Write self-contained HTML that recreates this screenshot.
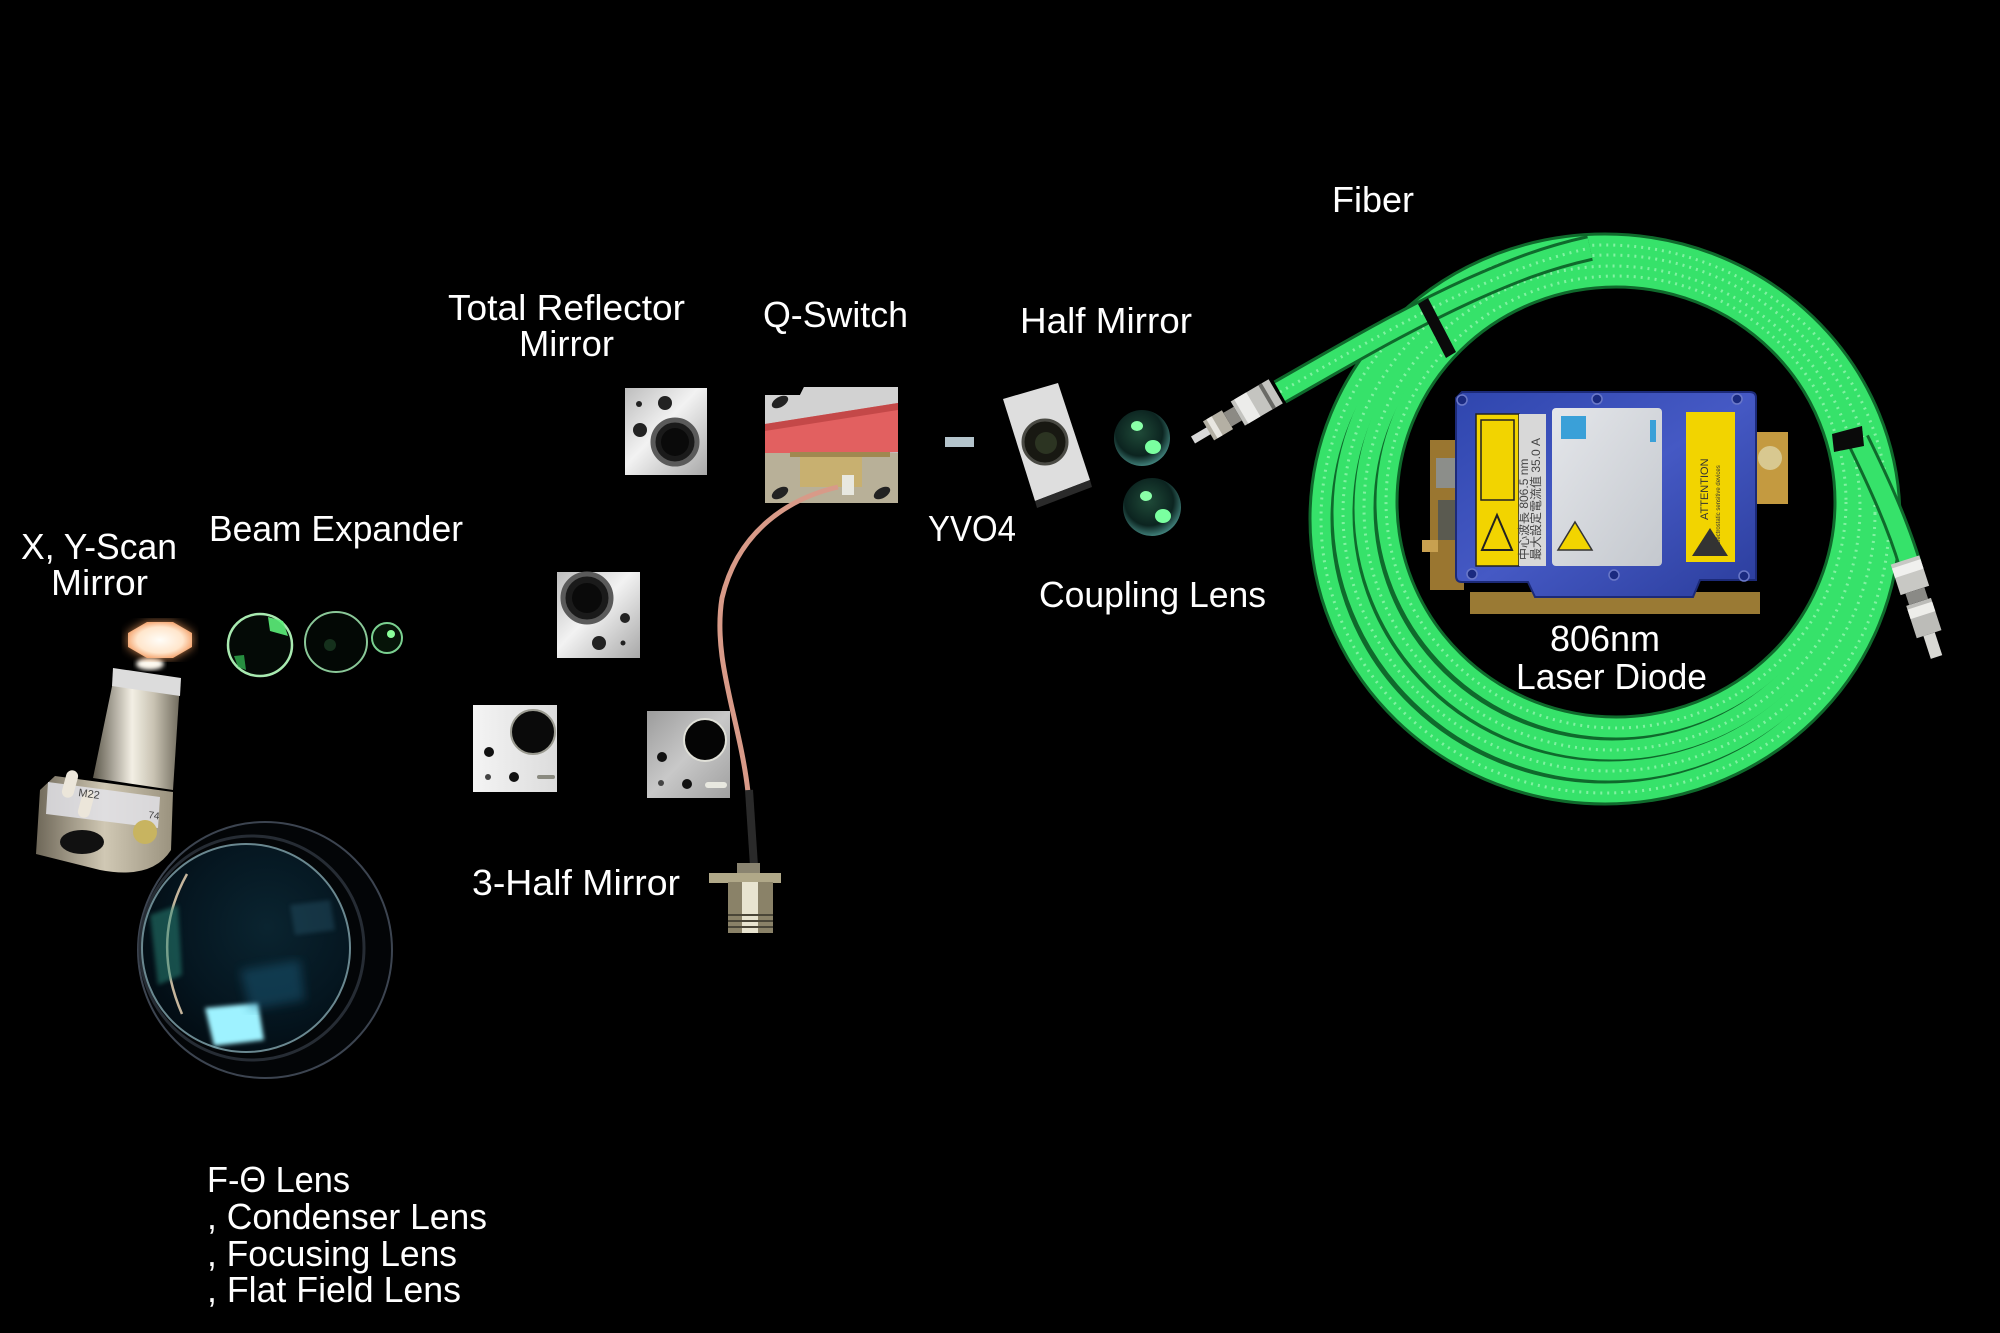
<!DOCTYPE html>
<html><head><meta charset="utf-8"><style>
html,body{margin:0;padding:0;background:#000;}
svg{display:block;}
</style></head><body>
<svg width="2000" height="1333" viewBox="0 0 2000 1333" xmlns="http://www.w3.org/2000/svg">
<defs>
<linearGradient id="metal" x1="0" y1="0" x2="1" y2="1">
<stop offset="0" stop-color="#bdbdbd"/><stop offset="0.45" stop-color="#f2f2f2"/><stop offset="1" stop-color="#a8a8a8"/></linearGradient>
<linearGradient id="metal2" x1="0" y1="0" x2="1" y2="0">
<stop offset="0" stop-color="#f4f4f4"/><stop offset="1" stop-color="#dcdcdc"/></linearGradient>
<linearGradient id="brushed" x1="0" y1="0" x2="1" y2="1">
<stop offset="0" stop-color="#9c9c9c"/><stop offset="0.5" stop-color="#c8c8c8"/><stop offset="1" stop-color="#a0a0a0"/></linearGradient>
<linearGradient id="cyl" x1="0" y1="0" x2="1" y2="0">
<stop offset="0" stop-color="#5e594c"/><stop offset="0.45" stop-color="#f3efe4"/><stop offset="0.7" stop-color="#c8c2b2"/><stop offset="1" stop-color="#6f6a5c"/></linearGradient>
<linearGradient id="base" x1="0" y1="0" x2="1" y2="0">
<stop offset="0" stop-color="#6e6758"/><stop offset="0.5" stop-color="#d0c8b4"/><stop offset="1" stop-color="#9a927e"/></linearGradient>
<radialGradient id="octa" cx="0.5" cy="0.5" r="0.6">
<stop offset="0" stop-color="#fffdf8"/><stop offset="0.6" stop-color="#ffe6cc"/><stop offset="1" stop-color="#f08a4a"/></radialGradient>
<radialGradient id="glass" cx="0.6" cy="0.4" r="0.7">
<stop offset="0" stop-color="#0a2430"/><stop offset="0.6" stop-color="#051620"/><stop offset="1" stop-color="#020a10"/></radialGradient>
<radialGradient id="ball" cx="0.45" cy="0.4" r="0.6">
<stop offset="0" stop-color="#1f4a38"/><stop offset="0.7" stop-color="#0c2420"/><stop offset="1" stop-color="#3f7e78"/></radialGradient>
<linearGradient id="blue" x1="0" y1="0" x2="1" y2="1">
<stop offset="0" stop-color="#2f46ae"/><stop offset="0.5" stop-color="#4559c4"/><stop offset="1" stop-color="#2b3d9c"/></linearGradient>
<linearGradient id="label" x1="0" y1="0" x2="1" y2="1">
<stop offset="0" stop-color="#e4e6ea"/><stop offset="1" stop-color="#c4c8ce"/></linearGradient>
<filter id="blur2"><feGaussianBlur stdDeviation="2"/></filter>
<filter id="blur5"><feGaussianBlur stdDeviation="5"/></filter>
</defs>

<rect width="2000" height="1333" fill="#000"/>

<!-- ===== FIBER COIL ===== -->
<g fill="none">
<g stroke="#0f6a2c" stroke-width="25">
<ellipse cx="1605" cy="519" rx="284" ry="274"/>
<ellipse cx="1609" cy="513" rx="266" ry="258"/>
<ellipse cx="1612" cy="508" rx="248" ry="242"/>
<ellipse cx="1616" cy="502" rx="230" ry="226"/>
</g>
<g stroke="#36e26a" stroke-width="19">
<ellipse cx="1605" cy="519" rx="284" ry="274"/>
<ellipse cx="1609" cy="513" rx="266" ry="258"/>
<ellipse cx="1612" cy="508" rx="248" ry="242"/>
<ellipse cx="1616" cy="502" rx="230" ry="226"/>
</g>
<g stroke="#9af7b4" stroke-width="3" stroke-dasharray="2 5" opacity="0.75">
<ellipse cx="1605" cy="519" rx="284" ry="274"/>
<ellipse cx="1609" cy="513" rx="266" ry="258"/>
<ellipse cx="1612" cy="508" rx="248" ry="242"/>
<ellipse cx="1616" cy="502" rx="230" ry="226"/>
</g>
<!-- lead fiber -->
<path d="M1280,392 C1340,358 1400,322 1470,290 C1510,272 1545,258 1590,248" stroke="#0f6a2c" stroke-width="26"/>
<path d="M1280,392 C1340,358 1400,322 1470,290 C1510,272 1545,258 1590,248" stroke="#36e26a" stroke-width="20"/>
<path d="M1280,392 C1340,358 1400,322 1470,290 C1510,272 1545,258 1590,248" stroke="#9af7b4" stroke-width="3" stroke-dasharray="2 5" opacity="0.75"/>
<!-- right tail -->
<path d="M1858,440 C1880,485 1898,525 1910,565" stroke="#0f6a2c" stroke-width="24"/>
<path d="M1858,440 C1880,485 1898,525 1910,565" stroke="#36e26a" stroke-width="18"/>
</g>
<!-- bands -->
<polygon points="1418,304 1428,298 1456,352 1446,358" fill="#0a0a0a"/>
<polygon points="1832,434 1862,426 1864,446 1834,452" fill="#0a0a0a"/>

<!-- left fiber connector -->
<g transform="translate(1193,440) rotate(-30.5)">
<rect x="0" y="-4" width="20" height="8" fill="#d8d8d8"/>
<rect x="18" y="-11" width="22" height="22" fill="#b4b0a4"/>
<rect x="22" y="-11" width="6" height="22" fill="#e8e6e0"/>
<rect x="40" y="-8" width="12" height="16" fill="#8c8a84"/>
<rect x="52" y="-14" width="44" height="28" fill="#c4c4c0"/>
<rect x="56" y="-14" width="14" height="28" fill="#ececea"/>
<rect x="84" y="-14" width="4" height="28" fill="#6a6a66"/>
</g>
<!-- right fiber connector -->
<g transform="translate(1905,560) rotate(72)">
<rect x="0" y="-15" width="32" height="30" fill="#c8c8c4"/>
<rect x="4" y="-15" width="10" height="30" fill="#f0f0ee"/>
<rect x="32" y="-10" width="12" height="20" fill="#8a8a86"/>
<rect x="44" y="-13" width="34" height="26" fill="#bcbcb8"/>
<rect x="48" y="-13" width="10" height="26" fill="#eeeeea"/>
<rect x="78" y="-6" width="24" height="12" fill="#d8d8d4"/>
</g>

<!-- ===== LASER DIODE BOX ===== -->
<rect x="1430" y="440" width="34" height="150" fill="#9a7630"/>
<rect x="1436" y="458" width="24" height="30" fill="#8c8e8a"/>
<rect x="1438" y="500" width="20" height="40" fill="#5a5a50"/>
<rect x="1422" y="540" width="16" height="12" fill="#c8a050"/>
<rect x="1748" y="432" width="40" height="72" fill="#c49a40"/>
<circle cx="1770" cy="458" r="12" fill="#d8c890"/>
<rect x="1470" y="592" width="290" height="22" fill="#9a7a34"/>
<path d="M1462,392 L1750,392 Q1756,392 1756,398 L1756,580 L1700,580 L1693,597 L1535,597 L1528,582 L1462,582 Q1456,582 1456,576 L1456,398 Z" fill="url(#blue)" stroke="#1c2a78" stroke-width="2"/>
<!-- labels -->
<rect x="1476" y="414" width="43" height="152" fill="#f2d400" stroke="#222" stroke-width="1.5"/>
<rect x="1481" y="420" width="33" height="80" fill="none" stroke="#222" stroke-width="1.5"/>
<polygon points="1497,515 1512,550 1482,550" fill="none" stroke="#222" stroke-width="2"/>
<rect x="1519" y="414" width="27" height="152" fill="#d8d8d8"/>
<text transform="translate(1540,560) rotate(-90)" font-family="Liberation Sans, Noto Sans CJK SC, sans-serif" font-size="12" fill="#444">最大設定電流值  35.0 A</text>
<text transform="translate(1528,560) rotate(-90)" font-family="Liberation Sans, Noto Sans CJK SC, sans-serif" font-size="12" fill="#444">中心波長  806.5 nm</text>
<rect x="1552" y="408" width="110" height="158" rx="4" fill="url(#label)"/>
<rect x="1561" y="416" width="25" height="23" fill="#3aa0d8"/>
<rect x="1650" y="420" width="6" height="22" fill="#3aa0d8"/>
<polygon points="1575,522 1592,550 1558,550" fill="#f2d400" stroke="#333" stroke-width="1.5"/>
<rect x="1686" y="412" width="49" height="150" fill="#f2d400"/>
<text transform="translate(1708,520) rotate(-90)" font-family="Liberation Sans, sans-serif" font-size="11" fill="#333">ATTENTION</text>
<text transform="translate(1720,545) rotate(-90)" font-family="Liberation Sans, sans-serif" font-size="6" fill="#333">Electrostatic sensitive devices</text>
<polygon points="1710,528 1728,556 1692,556" fill="#333"/>
<!-- screws -->
<g fill="#1a2a80" stroke="#6a78c8" stroke-width="1.5">
<circle cx="1462" cy="400" r="5"/><circle cx="1597" cy="399" r="5"/><circle cx="1737" cy="399" r="5"/>
<circle cx="1472" cy="574" r="5"/><circle cx="1614" cy="575" r="5"/><circle cx="1744" cy="576" r="5"/>
</g>

<!-- ===== SCANNER ===== -->
<path d="M55,776 L173,792 L171,850 Q152,880 100,870 L36,854 L40,790 Z" fill="url(#base)"/>
<polygon points="48,782 160,797 158,828 46,814" fill="#e2e2e8" opacity="0.85"/>
<circle cx="145" cy="832" r="12" fill="#c8b460"/>
<ellipse cx="82" cy="842" rx="22" ry="12" fill="#111"/>
<rect x="64" y="770" width="12" height="28" rx="6" fill="#ece6da" transform="rotate(15 70 784)"/>
<rect x="80" y="790" width="12" height="28" rx="6" fill="#ece6da" transform="rotate(15 86 804)"/>
<text x="78" y="796" font-family="Liberation Sans, sans-serif" font-size="11" fill="#444" transform="rotate(8 78 796)">M22</text>
<text x="148" y="818" font-family="Liberation Sans, sans-serif" font-size="10" fill="#444" transform="rotate(8 148 818)">74</text>
<polygon points="115,672 180,682 173,790 93,778" fill="url(#cyl)"/>
<polygon points="113,668 181,678 180,696 112,686" fill="#dcdcdc"/>
<ellipse cx="150" cy="664" rx="14" ry="6" fill="#fffaf0" filter="url(#blur2)"/>
<polygon points="192,647 173,658 147,658 128,647 128,633 147,622 173,622 192,633" fill="#f6a060" filter="url(#blur5)" opacity="0.8"/>
<polygon points="192,647 173,658 147,658 128,647 128,633 147,622 173,622 192,633" fill="url(#octa)"/>

<!-- ===== BEAM EXPANDER ===== -->
<ellipse cx="260" cy="645" rx="32" ry="31" fill="#040a06" stroke="#a8eab0" stroke-width="2.5"/>
<polygon points="268,617 283,621 288,636 270,631" fill="#5cf07a" opacity="0.9"/>
<polygon points="234,656 244,655 246,670 238,667" fill="#36c85a" opacity="0.7"/>
<ellipse cx="336" cy="642" rx="31" ry="30" fill="#030805" stroke="#8ac898" stroke-width="2"/>
<circle cx="330" cy="645" r="6" fill="#15301c"/>
<circle cx="387" cy="638" r="15" fill="#061408" stroke="#7ad090" stroke-width="2"/>
<circle cx="391" cy="634" r="4" fill="#8aff9a"/>

<!-- ===== F-THETA LENS ===== -->
<ellipse cx="265" cy="950" rx="127" ry="128" fill="#030507" stroke="#3c4450" stroke-width="2"/>
<circle cx="252" cy="948" r="112" fill="none" stroke="#262c34" stroke-width="3"/>
<circle cx="246" cy="948" r="104" fill="url(#glass)" stroke="#6a8890" stroke-width="2"/>
<path d="M187,874 Q150,940 182,1014" fill="none" stroke="#e8d2b4" stroke-width="2.5" opacity="0.85"/>
<polygon points="150,915 178,905 182,975 158,985" fill="#2a8a7a" opacity="0.5" filter="url(#blur2)"/>
<polygon points="205,1008 258,1003 264,1040 214,1046" fill="#9ef2ff" filter="url(#blur2)"/>
<polygon points="240,970 300,960 305,1000 250,1010" fill="#1a6080" opacity="0.45" filter="url(#blur5)"/>
<polygon points="290,905 330,900 335,930 295,935" fill="#2a5a70" opacity="0.4" filter="url(#blur2)"/>

<!-- ===== MIRROR MOUNTS ===== -->
<rect x="625" y="388" width="82" height="87" fill="url(#metal)"/>
<circle cx="675" cy="442" r="22" fill="#1a1a1a" stroke="#5a5a5a" stroke-width="5"/>
<circle cx="675" cy="442" r="14" fill="#0a0a0a"/>
<circle cx="639" cy="404" r="3" fill="#222"/><circle cx="665" cy="403" r="7" fill="#222"/><circle cx="640" cy="430" r="7" fill="#222"/>
<rect x="557" y="572" width="83" height="86" fill="url(#metal)"/>
<circle cx="587" cy="598" r="24" fill="#1a1a1a" stroke="#5a5a5a" stroke-width="5"/>
<circle cx="587" cy="598" r="15" fill="#0a0a0a"/>
<circle cx="625" cy="618" r="5" fill="#222"/><circle cx="599" cy="643" r="7" fill="#222"/><circle cx="623" cy="643" r="2.5" fill="#222"/>
<rect x="473" y="705" width="84" height="87" fill="url(#metal2)"/>
<circle cx="533" cy="732" r="22" fill="#0a0a0a" stroke="#9a9a90" stroke-width="2"/>
<circle cx="489" cy="752" r="5" fill="#111"/><circle cx="514" cy="777" r="5" fill="#111"/><circle cx="488" cy="777" r="3" fill="#444"/>
<rect x="537" y="775" width="18" height="4" rx="2" fill="#8a8a80"/>
<rect x="647" y="711" width="83" height="87" fill="url(#brushed)"/>
<circle cx="705" cy="740" r="21" fill="#050505" stroke="#e0e0d8" stroke-width="2"/>
<circle cx="662" cy="757" r="5" fill="#111"/><circle cx="687" cy="784" r="5" fill="#111"/><circle cx="661" cy="783" r="3" fill="#444"/>
<rect x="705" y="782" width="22" height="6" rx="3" fill="#e8e8e0"/>

<!-- ===== Q-SWITCH ===== -->
<polygon points="765,395 800,395 804,387 898,387 898,503 765,503" fill="#c4c4c4"/>
<polygon points="765,395 800,395 804,387 898,387 898,405 765,425" fill="#d2d2d2"/>
<polygon points="765,424 898,403 898,452 765,455" fill="#e26060"/>
<polygon points="765,424 898,403 898,410 765,431" fill="#c44848"/>
<rect x="765" y="453" width="133" height="50" fill="#b8b098"/>
<rect x="800" y="455" width="62" height="32" fill="#c8b070"/>
<rect x="790" y="452" width="100" height="5" fill="#a08850"/>
<rect x="842" y="475" width="12" height="20" fill="#e8e8e0"/>
<ellipse cx="780" cy="493" rx="9" ry="5" fill="#222" transform="rotate(-30 780 493)"/>
<ellipse cx="882" cy="493" rx="9" ry="5" fill="#222" transform="rotate(-30 882 493)"/>
<ellipse cx="780" cy="402" rx="9" ry="5" fill="#222" transform="rotate(-30 780 402)"/>

<!-- coax cable -->
<path d="M838,487 C790,498 738,530 722,598 C712,660 740,720 748,792" fill="none" stroke="#d89a88" stroke-width="5"/>
<path d="M749,790 L754,866" stroke="#2a2a2a" stroke-width="8"/>
<rect x="737" y="863" width="23" height="12" fill="#8a8470"/>
<rect x="709" y="873" width="72" height="10" fill="#b0a888"/>
<rect x="728" y="882" width="45" height="51" fill="#8a8268"/>
<rect x="742" y="882" width="16" height="51" fill="#e8e4d0"/>
<g stroke="#4a4638" stroke-width="2"><line x1="728" y1="915" x2="773" y2="915"/><line x1="728" y1="921" x2="773" y2="921"/><line x1="728" y1="927" x2="773" y2="927"/></g>

<!-- ===== YVO4 / HALF MIRROR / COUPLING ===== -->
<rect x="945" y="437" width="29" height="10" fill="#b4c4cc"/>
<polygon points="1003,399 1058,383 1090,480 1035,501" fill="#dedede"/>
<polygon points="1035,501 1090,480 1092,487 1037,508" fill="#2a2a2a"/>
<circle cx="1045" cy="442" r="22" fill="#181812" stroke="#4a4a44" stroke-width="3"/>
<circle cx="1046" cy="443" r="11" fill="#2c3422"/>
<circle cx="1142" cy="438" r="28" fill="url(#ball)"/>
<ellipse cx="1137" cy="426" rx="6" ry="5" fill="#8affa8"/>
<ellipse cx="1153" cy="447" rx="8" ry="7" fill="#7affa0"/>
<circle cx="1152" cy="507" r="29" fill="url(#ball)"/>
<ellipse cx="1146" cy="496" rx="6" ry="5" fill="#8affa8"/>
<ellipse cx="1163" cy="516" rx="8" ry="7" fill="#7affa0"/>

<!-- ===== LABELS ===== -->
<g font-family="Liberation Sans, DejaVu Sans, sans-serif" font-size="36" fill="#ffffff">
<text x="1332" y="212">Fiber</text>
<text x="448" y="320" textLength="237" lengthAdjust="spacingAndGlyphs">Total Reflector</text>
<text x="519" y="356" textLength="95" lengthAdjust="spacingAndGlyphs">Mirror</text>
<text x="763" y="327" textLength="145" lengthAdjust="spacingAndGlyphs">Q-Switch</text>
<text x="1020" y="333" textLength="172" lengthAdjust="spacingAndGlyphs">Half Mirror</text>
<text x="928" y="541" textLength="88" lengthAdjust="spacingAndGlyphs">YVO4</text>
<text x="1039" y="607" textLength="227" lengthAdjust="spacingAndGlyphs">Coupling Lens</text>
<text x="1550" y="651" textLength="110" lengthAdjust="spacingAndGlyphs">806nm</text>
<text x="1516" y="689" textLength="191" lengthAdjust="spacingAndGlyphs">Laser Diode</text>
<text x="21" y="559" textLength="156" lengthAdjust="spacingAndGlyphs">X, Y-Scan</text>
<text x="51" y="595" textLength="97" lengthAdjust="spacingAndGlyphs">Mirror</text>
<text x="209" y="541" textLength="254" lengthAdjust="spacingAndGlyphs">Beam Expander</text>
<text x="472" y="895" textLength="208" lengthAdjust="spacingAndGlyphs">3-Half Mirror</text>
<text x="207" y="1192" textLength="143" lengthAdjust="spacingAndGlyphs">F-Θ Lens</text>
<text x="207" y="1229" textLength="280" lengthAdjust="spacingAndGlyphs">, Condenser Lens</text>
<text x="207" y="1266" textLength="250" lengthAdjust="spacingAndGlyphs">, Focusing Lens</text>
<text x="207" y="1302" textLength="254" lengthAdjust="spacingAndGlyphs">, Flat Field Lens</text>
</g>
</svg>
</body></html>
